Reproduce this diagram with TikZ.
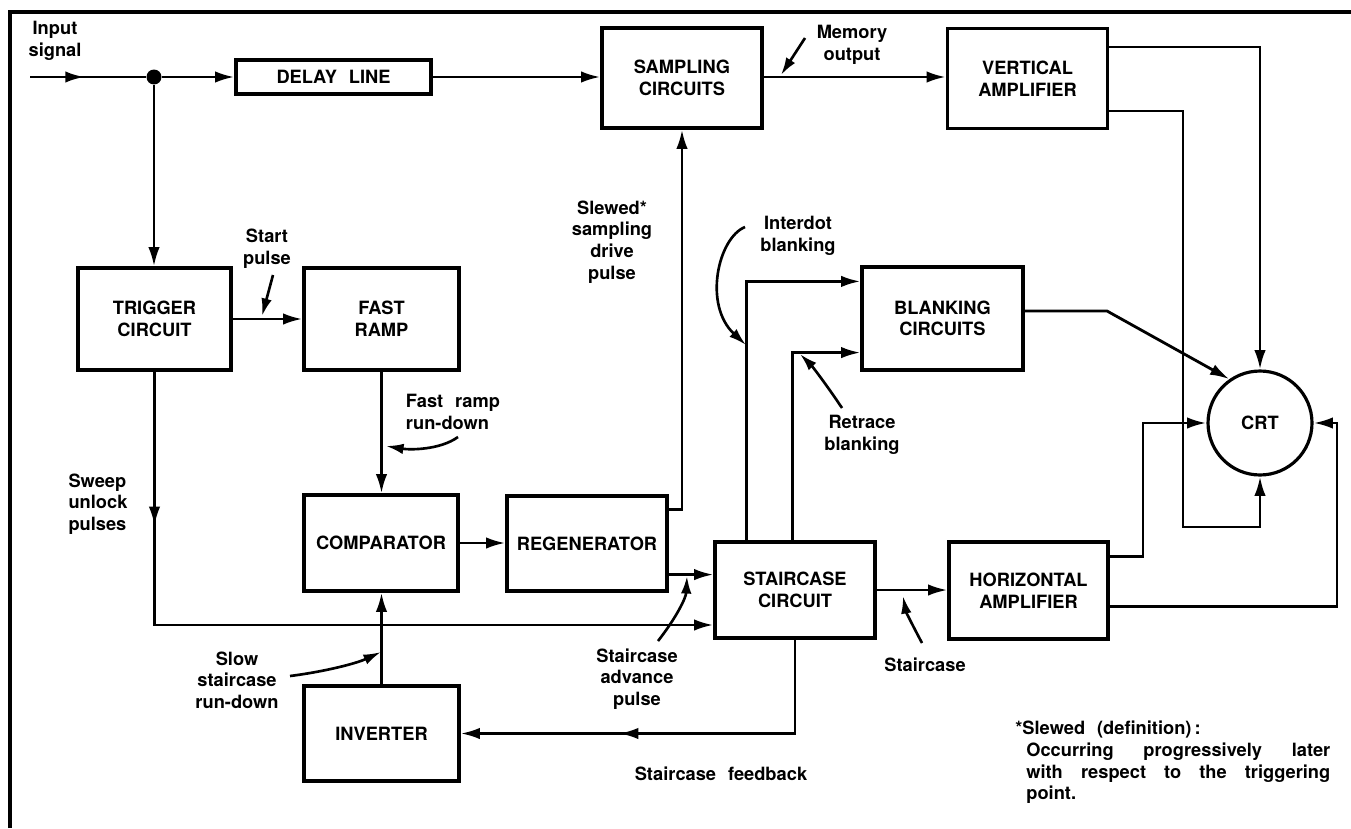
\documentclass[tikz,border=0pt]{standalone}
\usepackage{fontspec}
\setmainfont{TeX Gyre Heros}
\usetikzlibrary{arrows.meta,decorations.markings}

\tikzset{
    every node/.append style={font={\bfseries\fontsize{10.4}{12.3}\selectfont\spaceskip=0.65em\relax}},
    blk/.style={draw,line width=1.8pt,minimum width=3.2cm,minimum height=2cm,align=center,inner sep=0},
    lbl/.style={align=center,inner sep=0},
    wire/.style={line width=1.6pt},
    flow/.style={wire,-{Latex[length=11pt,width=6.5pt]}},
    callout/.style={line width=1.5pt,-{Latex[length=10pt,width=6pt]}},
    midarrow/.style={postaction={decorate},decoration={markings,mark=at position #1 with {\arrow{Latex[length=11pt,width=6.5pt]}}}}
}

\begin{document}
\begin{tikzpicture}[x=0.02cm,y=-0.02cm]
    \useasboundingbox (0,0) rectangle (1351,828);
    \draw[line width=1.9pt] (10,828) -- (10,12) -- (1351,12);

    \node[blk,minimum width=3.9cm,minimum height=0.68cm] (delay_line) at (333.5,77) {DELAY LINE};
    \node[blk] (samp_circ) at (682,78) {SAMPLING\\CIRCUITS};
    \node[blk] (vert_amp) at (1027.5,78.5) {VERTICAL\\AMPLIFIER};
    \node[blk,minimum width=3.06cm,minimum height=2.04cm] (trig_circ) at (154.5,319) {TRIGGER\\CIRCUIT};
    \node[blk,minimum width=3.1cm,minimum height=2.04cm] (fast_ramp) at (381.5,319) {FAST\\RAMP};
    \node[blk,minimum width=3.22cm,minimum height=2.06cm] (blank_circ) at (942.5,318.5) {BLANKING\\CIRCUITS};
    \node[blk,minimum width=3.08cm,minimum height=1.92cm] (comp) at (381,543) {COMPARATOR};
    \node[blk,minimum height=1.9cm] (regen) at (587,543.5) {REGENERATOR};
    \node[blk,minimum height=1.92cm] (stair_circ) at (795,590) {STAIRCASE\\CIRCUIT};
    \node[blk,minimum width=3.18cm,minimum height=1.94cm] (horiz_amp) at (1028.5,590.5) {HORIZONTAL\\AMPLIFIER};
    \node[blk,minimum width=3.1cm,minimum height=1.9cm] (inv) at (381.5,733.5) {INVERTER};
    \node[blk,circle,minimum size=2.08cm] (crt) at (1260,423) {CRT};

    \coordinate (sig_in) at (30,77);
    \node[circle,fill,inner sep=0,minimum size=0.3cm] (split_dot) at (154,77) {};
    \draw[wire,midarrow=0.47] (sig_in) -- (split_dot);
    \draw[flow] (split_dot) -- (delay_line.west);
    \draw[flow] (split_dot) -- (split_dot |- trig_circ.north);
    \draw[flow] (delay_line.east) -- (delay_line.east -| samp_circ.west);
    \draw[flow] (samp_circ.east |- delay_line.east) -- (delay_line.east -| vert_amp.west);
    \draw[flow] ([yshift=-0.4cm]vert_amp.north east) -| (crt.north);
    \coordinate (v_loop) at (1183,527);
    \draw[flow] ([yshift=0.38cm]vert_amp.south east) -| (v_loop) -| (crt.south);
    \draw[flow] (trig_circ.east) -- (trig_circ.east -| fast_ramp.west);
    \draw[flow,midarrow=0.19] (trig_circ.south) |- ([yshift=-0.7cm]stair_circ.west);
    \draw[flow] (fast_ramp.south) -- (fast_ramp.south |- comp.north);
    \draw[flow] (comp.east) -- (comp.east -| regen.west);
    \draw[flow] ([yshift=-0.3cm]regen.north east) -| (samp_circ.south);
    \draw[flow] ([yshift=0.36cm]regen.south east) -- ([yshift=0.36cm]regen.south east -| stair_circ.west);
    \draw[flow] ([xshift=0.66cm]stair_circ.north west) |- ([yshift=-0.32cm]blank_circ.north west);
    \draw[flow] ([xshift=1.58cm]stair_circ.north west) |- ([yshift=0.38cm]blank_circ.south west);
    \coordinate (blank_bend) at (1107,311);
    \draw[flow] (blank_circ.east |- blank_bend) -- (blank_bend) -- (crt.125);
    \draw[flow] (stair_circ.east) -- (stair_circ.east -| horiz_amp.west);
    \coordinate (h_bend_l) at (1143,423);
    \coordinate (h_bend_r) at (1337,423);
    \draw[flow] ([yshift=-0.32cm]horiz_amp.north east) -| (h_bend_l) -- (crt.west);
    \draw[flow] ([yshift=0.68cm]horiz_amp.south east) -| (h_bend_r) -- (crt.east);
    \draw[flow,midarrow=0.63] (stair_circ.south) |- (inv.east);
    \draw[flow] (inv.north) -- (inv.north |- comp.south);

    \node[lbl] (in_lbl) at (55,41) {Input\\signal};
    \node[lbl] (start_lbl) at (267,249) {Start\\pulse};
    \node[lbl] (slew_lbl) at (612,242) {Slewed*\\sampling\\drive\\pulse};
    \node[lbl] (mem_lbl) at (852,45) {Memory\\output};
    \node[lbl] (idot_lbl) at (798,236) {Interdot\\blanking};
    \node[lbl,align=left] (fr_lbl) at (453,412) {Fast ramp\\run-down};
    \node[lbl,align=left] (sweep_lbl) at (98,504) {Sweep\\unlock\\pulses};
    \node[lbl] (slow_lbl) at (237,680) {Slow\\staircase\\run-down};
    \node[lbl] (retr_lbl) at (862,435) {Retrace\\blanking};
    \node[lbl] (adv_lbl) at (637,679) {Staircase\\advance\\pulse};
    \node[lbl] (stc_lbl) at (925,665) {Staircase};
    \node[lbl] (fb_lbl) at (721,774) {Staircase feedback};
    \node[lbl,anchor=north west,align=left] (slew_note) at (1015,721) {*Slewed (definition)\,:\\
        \hspace*{0.22cm}\hbox to 6.08cm{Occurring\hfill progressively\hfill later}\\
        \hspace*{0.22cm}\hbox to 6.08cm{with\hfill respect\hfill to\hfill the\hfill triggering}\\
        \hspace*{0.22cm}point.};

    \coordinate (start_tail) at (273,275);
    \coordinate (start_tip) at (262,316);
    \coordinate (mem_tail) at (805,38);
    \coordinate (mem_tip) at (781,75);
    \coordinate (fr_tail) at (458,437);
    \coordinate (fr_tip) at (386,446);
    \coordinate (idot_tail) at (745,227);
    \coordinate (idot_tip) at (746,345);
    \coordinate (retr_tail) at (842,408);
    \coordinate (retr_tip) at (800,354);
    \coordinate (slow_tail) at (290,676);
    \coordinate (slow_tip) at (381,652);
    \coordinate (adv_tail) at (658,641);
    \coordinate (adv_tip) at (687,576);
    \coordinate (stc_tail) at (922,643);
    \coordinate (stc_tip) at (903,596);
    \draw[callout] (start_tail) -- (start_tip);
    \draw[callout] (mem_tail) -- (mem_tip);
    \draw[callout] (fr_tail) .. controls (440,450) and (410,450) .. (fr_tip);
    \draw[callout] (idot_tail) .. controls (718,238) and (703,305) .. (idot_tip);
    \draw[callout] (retr_tail) .. controls (826,384) and (812,366) .. (retr_tip);
    \draw[callout] (slow_tail) .. controls (322,672) and (355,664) .. (slow_tip);
    \draw[callout] (adv_tail) .. controls (676,618) and (686,598) .. (adv_tip);
    \draw[callout] (stc_tail) .. controls (914,628) and (906,612) .. (stc_tip);
\end{tikzpicture}
\end{document}
